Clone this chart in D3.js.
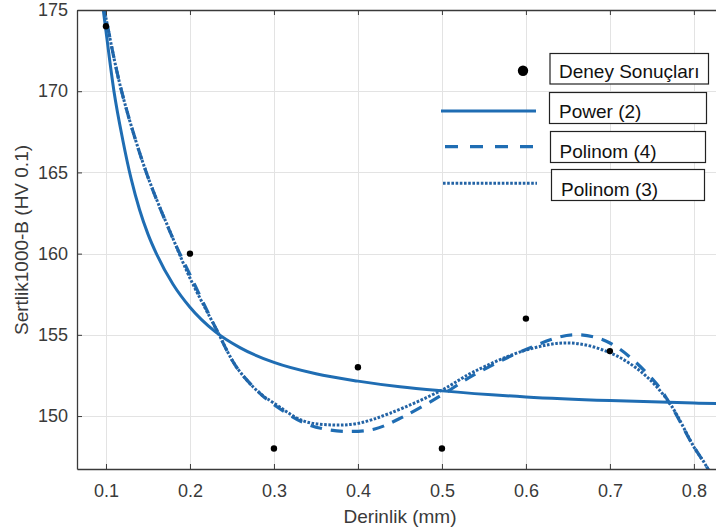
<!DOCTYPE html>
<html><head><meta charset="utf-8">
<script src="https://cdn.jsdelivr.net/npm/d3@7"></script>
<style>body{margin:0;background:#fff;} svg{display:block;font-family:"Liberation Sans",Arial,sans-serif;}</style>
</head><body>
<svg id="c" width="716" height="530"></svg>
<script>
// ---- data ----
const xTicks = [0.1, 0.2, 0.3, 0.4, 0.5, 0.6, 0.7, 0.8];
const yTicks = [150, 155, 160, 165, 170, 175];
const depth = [0.1, 0.2, 0.3, 0.4, 0.5, 0.6, 0.7];
const hardness = [174, 160, 148, 153, 148, 156, 154];
const powerX = [0.094, 0.0968, 0.1, 0.1095, 0.12, 0.13, 0.14, 0.15, 0.16, 0.18, 0.2, 0.23, 0.26, 0.3, 0.35, 0.4, 0.45, 0.5, 0.6, 0.7, 0.8, 0.85];
const powerY = [176.2, 175.0, 173.7, 170.0, 167.0, 164.6, 162.7, 161.2, 160.0, 158.1, 156.7, 155.2, 154.2, 153.3, 152.6, 152.15, 151.8, 151.55, 151.18, 150.95, 150.8, 150.74];
const poly4X = [0.097, 0.1, 0.1186, 0.148, 0.18, 0.2, 0.2318, 0.2556, 0.2833, 0.3, 0.335, 0.36, 0.39, 0.42, 0.454, 0.5, 0.537, 0.6, 0.656, 0.7, 0.752, 0.771, 0.8, 0.815, 0.83];
const poly4Y = [175.3, 174.5, 170.0, 165.0, 160.9, 158.7, 155.3, 153.0, 151.4, 150.7, 149.6, 149.2, 149.05, 149.2, 149.96, 151.3, 152.5, 154.1, 155.0, 154.5, 152.2, 150.8, 148.1, 146.9, 145.3];
const poly3X = [0.097, 0.1, 0.1186, 0.148, 0.18, 0.2, 0.2318, 0.2556, 0.2833, 0.3, 0.335, 0.37, 0.4, 0.438, 0.5, 0.537, 0.6, 0.652, 0.7, 0.74, 0.771, 0.8, 0.815, 0.83];
const poly3Y = [175.3, 174.5, 170.0, 165.0, 160.9, 158.5, 155.3, 153.0, 151.4, 150.8, 149.7, 149.45, 149.55, 150.17, 151.6, 152.7, 154.06, 154.5, 153.9, 152.6, 150.8, 148.1, 146.9, 145.3];
const legendLabels = ["Deney Sonuçları", "Power (2)", "Polinom (4)", "Polinom (3)"];
const xLabel = "Derinlik (mm)";
const yLabel = "Sertlik1000-B (HV 0.1)";

// ---- drawing ----
const svg = d3.select("#c");
const L = 77, R = 730, T = 10, B = 469;
const x = d3.scaleLinear().domain([0.0655, 0.843]).range([L, R]);
const y = d3.scaleLinear().domain([146.74, 175]).range([B, T]);
const blue = "#1f6db3", axisCol = "#3a3a3a", textCol = "#3a3a3a";

svg.append("rect").attr("x",0).attr("y",0).attr("width",716).attr("height",530).attr("fill","#fff");

// grid
const grid = svg.append("g").attr("stroke","#e3e3e3").attr("stroke-width",1);
grid.selectAll(".gx").data(xTicks).join("line")
  .attr("x1", d => Math.round(x(d))+0.5).attr("x2", d => Math.round(x(d))+0.5).attr("y1", T).attr("y2", B);
grid.selectAll(".gy").data(yTicks).join("line")
  .attr("y1", d => Math.round(y(d))+0.5).attr("y2", d => Math.round(y(d))+0.5).attr("x1", L).attr("x2", R);

// clip
svg.append("clipPath").attr("id","clip").append("rect").attr("x",L).attr("y",T).attr("width",R-L).attr("height",B-T);
const plot = svg.append("g").attr("clip-path","url(#clip)");

const lineP = d3.line().x(d => x(d[0])).y(d => y(d[1])).curve(d3.curveMonotoneX);
const lineC = d3.line().x(d => x(d[0])).y(d => y(d[1])).curve(d3.curveCatmullRom.alpha(0.5));

plot.append("path").datum(d3.zip(poly4X, poly4Y)).attr("d", lineC)
  .attr("fill","none").attr("stroke",blue).attr("stroke-width",3.2).attr("stroke-dasharray","12,9");
plot.append("path").datum(d3.zip(poly3X, poly3Y)).attr("d", lineC)
  .attr("fill","none").attr("stroke","#2363a5").attr("stroke-width",3).attr("stroke-dasharray","2.6,1.6");
plot.append("path").datum(d3.zip(powerX, powerY)).attr("d", lineP)
  .attr("fill","none").attr("stroke",blue).attr("stroke-width",3);

plot.selectAll(".pt").data(d3.zip(depth, hardness)).join("circle")
  .attr("cx", d => x(d[0])).attr("cy", d => y(d[1])).attr("r", 3.2).attr("fill","#000");

// axes
const fs = 18;
const gx = svg.append("g").attr("transform",`translate(0,${B})`)
  .call(d3.axisBottom(x).tickValues(xTicks).tickSize(-5).tickSizeOuter(0).tickPadding(15).tickFormat(d3.format(".1f")));
const gy = svg.append("g").attr("transform",`translate(${L},0)`)
  .call(d3.axisLeft(y).tickValues(yTicks).tickSize(-5).tickSizeOuter(0).tickPadding(9));
const gt = svg.append("g").attr("transform",`translate(0,${T})`)
  .call(d3.axisTop(x).tickValues(xTicks).tickSize(-5).tickSizeOuter(0).tickFormat(""));
[gx, gy, gt].forEach(g => {
  g.select(".domain").attr("stroke", axisCol).attr("stroke-width", 1.3);
  g.selectAll(".tick line").attr("stroke", axisCol).attr("stroke-width", 1);
  g.selectAll("text").attr("fill", textCol).style("font-size", fs + "px").attr("font-family", null);
});

// axis labels
svg.append("text").attr("x", 400).attr("y", 523).attr("text-anchor","middle")
  .attr("fill", textCol).style("font-size","19px").text(xLabel);
svg.append("text").attr("transform","translate(27.5,240) rotate(-90)").attr("text-anchor","middle")
  .attr("fill", textCol).style("font-size","19px").text(yLabel);

// legend
const boxes = [
  {x:550, y:53.5, w:158.5, h:30.5, tx:559, ty:78},
  {x:549.5, y:92.5, w:157, h:31, tx:559, ty:117.5},
  {x:550.5, y:131.5, w:155, h:31, tx:559.5, ty:158},
  {x:551.5, y:169.5, w:153, h:31, tx:561, ty:196}
];
const lg = svg.append("g");
boxes.forEach((b, i) => {
  lg.append("rect").attr("x", b.x).attr("y", b.y).attr("width", b.w).attr("height", b.h)
    .attr("fill","#fff").attr("stroke","#222").attr("stroke-width",1.2);
  lg.append("text").attr("x", b.tx).attr("y", b.ty).attr("fill","#111").style("font-size","19px").text(legendLabels[i]);
});
lg.append("circle").attr("cx",523).attr("cy",70.7).attr("r",5.2).attr("fill","#000");
lg.append("line").attr("x1",441).attr("x2",536).attr("y1",111).attr("y2",111).attr("stroke",blue).attr("stroke-width",3);
lg.append("line").attr("x1",445).attr("x2",537).attr("y1",146.7).attr("y2",146.7).attr("stroke",blue).attr("stroke-width",3.2).attr("stroke-dasharray","13,12");
lg.append("line").attr("x1",443).attr("x2",537).attr("y1",183.3).attr("y2",183.3).attr("stroke","#2363a5").attr("stroke-width",3).attr("stroke-dasharray","2.6,1.6");
</script>
</body></html>
